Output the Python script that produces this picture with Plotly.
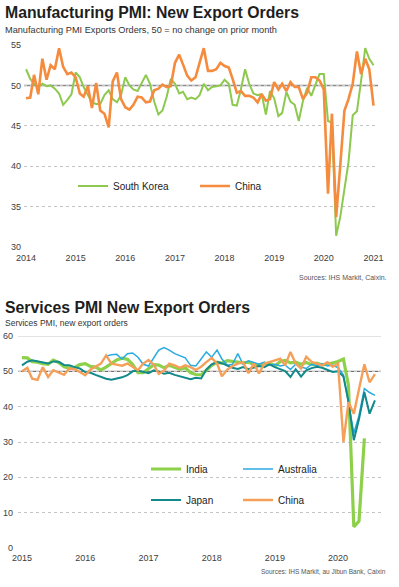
import pandas as pd
import plotly.graph_objects as go

# ---------------- data ----------------
mfg_months = pd.date_range("2014-01-01", "2021-01-01", freq="MS")
korea_mfg = [
    52.0, 50.8, 50.2, 49.8, 50.2, 49.9, 50.0, 49.6, 49.0, 47.6, 48.2, 48.9,
    51.6, 51.0, 49.8, 48.8, 47.9, 47.7, 47.7, 48.8, 49.4, 48.3, 47.9, 48.8,
    51.0, 50.0, 49.5, 49.3, 50.3, 51.3, 50.2, 48.0, 46.4, 46.9, 48.6, 50.8,
    50.2, 49.0, 49.2, 48.3, 48.5, 48.3, 48.8, 50.2, 49.4, 49.8, 49.9, 50.0,
    50.7, 50.2, 47.6, 47.5, 49.5, 52.0, 50.2, 49.0, 48.8, 48.9, 46.4, 49.3,
    48.4, 46.2, 46.6, 49.2, 48.0, 47.6, 45.6, 48.1, 49.7, 48.7, 50.1, 51.4,
    51.4, 45.6, 45.4, 31.4, 33.7, 37.0, 40.5, 46.3, 46.8, 50.5, 54.6, 53.3,
    52.5,
]
china_mfg = [
    48.4, 48.5, 51.3, 48.9, 53.3, 50.7, 52.5, 52.0, 54.6, 52.3, 51.4, 51.6,
    51.0, 49.0, 48.6, 49.9, 47.2, 50.3, 46.9, 46.5, 44.8, 50.5, 51.6, 48.3,
    47.3, 47.0, 47.6, 48.6, 48.5, 47.9, 48.0, 49.4, 49.6, 50.1, 49.8, 49.9,
    52.8, 53.8, 52.6, 51.2, 50.6, 51.0, 52.8, 54.6, 51.8, 51.8, 52.0, 52.8,
    52.4, 52.2, 50.8, 49.1, 49.3, 48.7, 48.7, 48.5, 47.9, 48.9, 48.1, 48.3,
    50.4, 49.5, 50.2, 49.3, 50.4, 49.8, 49.8, 48.3, 49.1, 51.0, 51.0, 50.6,
    49.5, 36.6, 46.5, 33.7, 40.0, 46.9, 48.3, 50.2, 54.2, 51.4, 53.3, 52.0,
    47.5,
]
mfg_ticks = ["2014", "2015", "2016", "2017", "2018", "2019", "2020", "2021"]

svc_months = pd.date_range("2015-01-01", "2020-08-01", freq="MS")
india_svc = [
    53.9, 53.8, 52.7, 52.6, 52.2, 52.0, 53.2, 52.5, 51.3, 50.9, 51.1, 51.9,
    52.2, 51.4, 51.2, 50.4, 51.2, 52.2, 53.2, 53.7, 53.4, 52.0, 49.6, 49.6,
    50.8, 51.9, 51.8, 51.0, 51.7, 51.2, 50.6, 51.0, 49.6, 49.1, 49.0, 50.3,
    51.7, 52.6, 52.3, 53.0, 52.8, 52.7, 52.4, 52.6, 52.0, 51.8, 52.2, 52.4,
    51.5, 52.8, 53.1, 52.4, 52.6, 52.0, 52.5, 51.9, 52.3, 51.8, 52.0, 52.3,
    52.8, 53.5, 46.0, 6.0, 7.6, 31.0,
]
australia_svc = [None] * 16 + [
    54.3, 54.7, 54.8, 53.5, 55.0, 55.2, 54.0, 52.0,
    51.5, 54.0, 56.0, 56.7, 56.0, 55.0, 54.3, 53.8, 51.7, 51.5, 53.5, 55.5,
    54.0, 56.0, 53.5, 51.7, 52.0, 55.0, 52.0, 53.0, 52.5, 52.0, 52.6, 51.8,
    52.0, 51.5, 51.8, 50.5, 52.0, 51.2, 50.8, 52.0, 51.5, 52.2, 51.5, 51.8,
    51.0, 49.0, 41.0, 32.5, 37.5, 45.1, 44.0, 43.2,
]
japan_svc = [
    51.7, 52.7, 53.1, 52.8, 52.5, 52.2, 52.8, 52.7, 51.8, 51.7, 51.2, 50.8,
    49.8, 49.6, 49.0, 48.4, 47.9, 47.6, 47.9, 48.3, 48.9, 50.0, 50.2, 49.9,
    49.5, 50.3, 50.0, 49.3, 49.6, 49.0, 48.6, 48.0, 47.8, 48.2, 48.0, 50.5,
    52.0, 52.6, 52.3, 51.6, 51.0, 50.7, 51.2, 50.6, 51.0, 51.5, 51.2, 52.0,
    51.2, 50.6, 50.1, 48.4, 50.6, 48.5, 50.3, 50.9, 51.3, 51.0, 50.4, 49.8,
    50.0, 48.5, 41.5, 30.5, 36.5, 44.1, 38.0, 41.8,
]
china_svc = [
    50.0, 51.0, 47.9, 47.6, 51.2, 48.4, 50.3, 49.6, 49.0, 50.8, 50.6, 49.8,
    48.9, 50.5, 51.3, 52.2, 54.5, 52.2, 51.9, 51.6, 52.2, 51.3, 50.3, 52.2,
    53.2, 51.8, 49.3, 50.2, 52.2, 51.7, 51.0, 51.7, 51.2, 50.4, 51.3, 52.6,
    53.8, 52.2, 48.6, 50.5, 51.5, 52.2, 52.6, 49.5, 52.2, 49.4, 52.2, 52.6,
    53.1, 53.6, 51.7, 55.5, 52.2, 50.8, 54.1, 52.7, 52.2, 51.7, 52.6, 51.3,
    52.2, 30.0, 41.3, 38.0, 45.0, 52.0, 46.9, 49.2,
]
svc_ticks = ["2015", "2016", "2017", "2018", "2019", "2020"]

# ---------------- figure ----------------
W, H = 399, 587
FONT = "Liberation Sans, Arial, sans-serif"
GREEN = "#8dc94e"
ORANGE = "#f58b3d"

def px(x):
    return x / W

def py(y):
    return 1 - y / H

fig = go.Figure()

fig.add_trace(go.Scatter(x=mfg_months, y=korea_mfg, name="South Korea", mode="lines",
                         line=dict(color=GREEN, width=2), xaxis="x", yaxis="y",
                         legend="legend"))
fig.add_trace(go.Scatter(x=mfg_months, y=china_mfg, name="China", mode="lines",
                         line=dict(color=ORANGE, width=2.6), xaxis="x", yaxis="y",
                         legend="legend"))

fig.add_trace(go.Scatter(x=svc_months[:len(india_svc)], y=india_svc, name="India", mode="lines",
                         line=dict(color="#8dd04a", width=3.2), xaxis="x2", yaxis="y2",
                         legend="legend2"))
fig.add_trace(go.Scatter(x=svc_months, y=australia_svc, name="Australia", mode="lines",
                         line=dict(color="#2aaae2", width=1.5), xaxis="x2", yaxis="y2",
                         legend="legend2", connectgaps=False))
fig.add_trace(go.Scatter(x=svc_months, y=japan_svc, name="Japan", mode="lines",
                         line=dict(color="#12898b", width=2), xaxis="x2", yaxis="y2",
                         legend="legend3"))
fig.add_trace(go.Scatter(x=svc_months, y=china_svc, name="China", mode="lines",
                         line=dict(color="#f5a05a", width=2.4), xaxis="x2", yaxis="y2",
                         legend="legend3"))

tickfont = dict(family=FONT, size=9, color="#404040")

fig.update_layout(
    width=W, height=H,
    margin=dict(l=0, r=0, t=0, b=0, autoexpand=False),
    paper_bgcolor="white", plot_bgcolor="white",
    font=dict(family=FONT, color="#333"),
    xaxis=dict(domain=[px(24), px(378)], type="date",
               range=["2013-12-17", "2021-02-03"],
               tickvals=[f"{t}-01-01" for t in mfg_ticks], ticktext=mfg_ticks,
               showgrid=False, zeroline=False, showline=False, ticks="",
               ticklabelstandoff=4,
               tickfont=tickfont, anchor="y", automargin=False),
    yaxis=dict(domain=[py(247), py(45)], range=[30, 55], dtick=5, tick0=30,
               showgrid=True, gridcolor="#c4c4c4", griddash="dot", gridwidth=1,
               zeroline=False, showline=False, ticks="", ticklabelstandoff=2,
               tickfont=tickfont, anchor="x", automargin=False),
    xaxis2=dict(domain=[px(18), px(381)], type="date",
                range=["2014-12-09", "2020-09-05"],
                tickvals=[f"{t}-01-01" for t in svc_ticks], ticktext=svc_ticks,
                showgrid=False, zeroline=False, showline=False, ticks="",
                ticklabelstandoff=3,
                tickfont=tickfont, anchor="y2", automargin=False),
    yaxis2=dict(domain=[py(548), py(336)], range=[0, 60], dtick=10, tick0=0,
                showgrid=True, gridcolor="#c4c4c4", griddash="dot", gridwidth=1,
                zeroline=False, showline=False, ticks="", ticklabelstandoff=4,
                tickfont=tickfont, anchor="x2", automargin=False),
    legend=dict(orientation="h", x=px(73), y=py(186), xanchor="left", yanchor="middle",
                entrywidth=77, entrywidthmode="pixels", bgcolor="rgba(0,0,0,0)",
                font=dict(family=FONT, size=10, color="#222")),
    legend2=dict(orientation="h", x=px(146), y=py(469), xanchor="left", yanchor="middle",
                 entrywidth=47, entrywidthmode="pixels", bgcolor="rgba(0,0,0,0)",
                 font=dict(family=FONT, size=10, color="#222")),
    legend3=dict(orientation="h", x=px(146), y=py(500), xanchor="left", yanchor="middle",
                 entrywidth=47, entrywidthmode="pixels", bgcolor="rgba(0,0,0,0)",
                 font=dict(family=FONT, size=10, color="#222")),
)

# reference line at 50 and top line at 60
fig.add_shape(type="line", xref="x domain", yref="y", x0=0, x1=1, y0=50, y1=50,
              line=dict(color="#8a8a8a", width=1.5), layer="below")
fig.add_shape(type="line", xref="x2 domain", yref="y2", x0=0, x1=1, y0=50, y1=50,
              line=dict(color="#555555", width=1), layer="below")
fig.add_shape(type="line", xref="x2 domain", yref="y2", x0=0, x1=1, y0=60, y1=60,
              line=dict(color="#e3e3e3", width=2), layer="below")

def note(text, x, y, size, bold=False, anchor="left", color="#333"):
    fig.add_annotation(text=f"<b>{text}</b>" if bold else text, xref="paper", yref="paper",
                       x=px(x), y=py(y), xanchor=anchor, yanchor="middle", showarrow=False,
                       font=dict(family=FONT, size=size, color=color))

note("Manufacturing PMI: New Export Orders", 3, 12, 15.8, bold=True, color="#1e1e1e")
note("Manufacturing PMI Exports Orders, 50 = no change on prior month", 3, 30.5, 9.2)
note("Sources: IHS Markit, Caixin.", 389, 277, 7, anchor="right", color="#555")
note("Services PMI New Export Orders", 3, 307, 15.8, bold=True, color="#1e1e1e")
note("Services PMI, new export orders", 3, 323, 8.5)
note("Sources: IHS Markit, au Jibun Bank, Caixin", 388, 571, 6.5, anchor="right", color="#555")

fig.write_html("out.html",
               config={"displayModeBar": False},
               post_script="document.body.style.margin='0';document.body.style.padding='0';")
